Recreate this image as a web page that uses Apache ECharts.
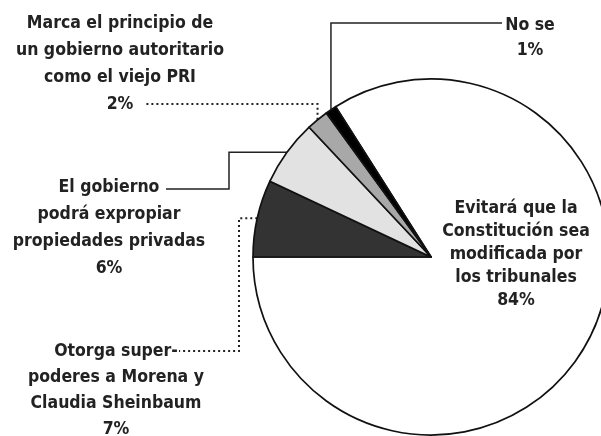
<!DOCTYPE html>
<html>
<head>
<meta charset="utf-8">
<script src="https://cdn.jsdelivr.net/npm/echarts@6/dist/echarts.min.js"></script>
<style>
  html, body { margin: 0; padding: 0; background: #fff; }
  #chart { width: 601px; height: 436px; }
</style>
</head>
<body>
<div id="chart"></div>
<script>
// slices, clockwise from the big white one
const categories = [
  'Evitará que la\nConstitución sea\nmodificada por\nlos tribunales',
  'Otorga super-\npoderes a Morena y\nClaudia Sheinbaum',
  'El gobierno\npodrá expropiar\npropiedades privadas',
  'Marca el principio de\nun gobierno autoritario\ncomo el viejo PRI',
  'No se'
]
const values = [84, 7, 6, 2, 1]

const sliceColors = ['#ffffff', '#333333', '#e2e2e2', '#a8a8a8', '#000000']

// where each label block sits and how its leader line runs
const labelSpots = [
  { x: 516, y: 254, lh: 23 },
  { x: 116, y: 390, lh: 26, start: [179, 351], turnX: 239, dotted: true },
  { x: 109, y: 228, lh: 27, start: [166, 189], turnX: 229 },
  { x: 120, y: 64, lh: 27, start: [146, 104], dotted: true },
  { x: 530, y: 38, lh: 25, start: [502, 23] }
]

const total = values.reduce((a, b) => a + b, 0)
// white slice ends exactly at 9 o'clock
const startAngle = 180 + (values[0] / total) * 360 - 360

const chart = echarts.init(document.getElementById('chart'))

const data = categories.map((name, i) => {
  const spot = labelSpots[i]
  return {
    name: name,
    value: values[i],
    itemStyle: { color: sliceColors[i] },
    label: { lineHeight: spot.lh },
    labelLine: {
      show: !!spot.start,
      lineStyle: spot.dotted ? { type: [2, 3], width: 2 } : { type: 'solid', width: 1.5 }
    }
  }
})

chart.setOption({
  animation: false,
  series: [
    {
      type: 'pie',
      silent: true,
      center: [431, 257],
      radius: 178,
      startAngle: startAngle,
      clockwise: true,
      avoidLabelOverlap: false,
      itemStyle: {
        borderColor: '#111',
        borderWidth: 1.7
      },
      label: {
        show: true,
        position: 'outside',
        formatter: p => p.name + '\n' + p.value + '%',
        color: '#222',
        fontFamily: "'Liberation Sans Narrow', 'DejaVu Sans Condensed', sans-serif",
        fontWeight: 'bold',
        fontSize: 17.5,
        align: 'center'
      },
      labelLine: {
        show: true,
        smooth: false,
        minTurnAngle: 0,
        lineStyle: { color: '#222' }
      },
      labelLayout: function (params) {
        const spot = labelSpots[params.dataIndex]
        const out = { x: spot.x, y: spot.y, align: 'center', verticalAlign: 'middle' }
        if (spot.start && params.labelLinePoints) {
          const a = params.labelLinePoints[0]
          if (spot.turnX != null) {
            out.labelLinePoints = [a, [spot.turnX, a[1]], [spot.turnX, spot.start[1]], spot.start]
          } else {
            out.labelLinePoints = [a, [a[0], spot.start[1]], spot.start]
          }
        }
        return out
      },
      data: data
    }
  ]
})
</script>
</body>
</html>
